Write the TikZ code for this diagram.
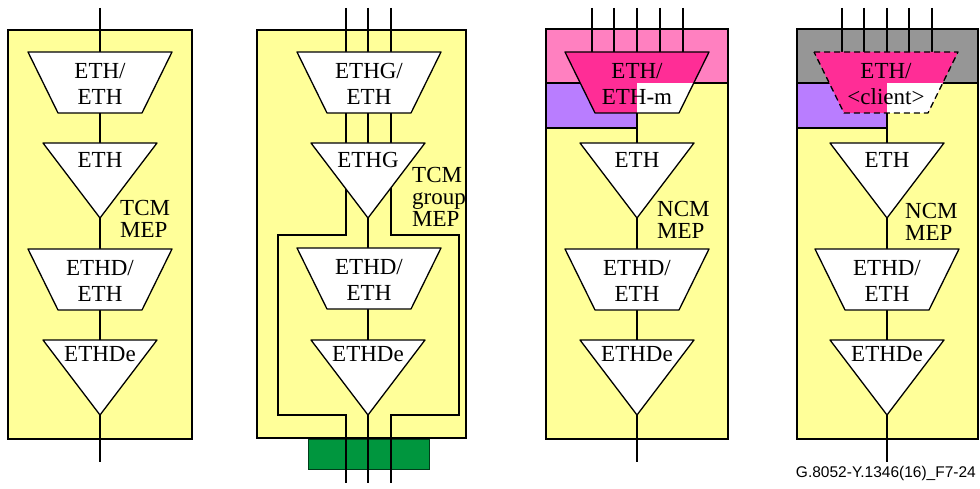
\documentclass[tikz,border=0pt]{standalone}
\usepackage{fontspec}
\setmainfont{Liberation Serif}
\newfontfamily\captionfont{Liberation Sans}
\definecolor{ylw}{RGB}{255,255,153}
\definecolor{pinkband}{RGB}{255,128,192}
\definecolor{mag}{RGB}{255,45,150}
\definecolor{purp}{RGB}{185,125,255}
\definecolor{gry}{RGB}{150,150,150}
\definecolor{grn}{RGB}{0,150,62}
\newcommand{\trapP}[2]{({#1-72},{#2}) -- ({#1+72},{#2}) -- ({#1+42},{#2+61}) -- ({#1-42},{#2+61}) -- cycle}
\newcommand{\triP}[2]{({#1-57},{#2}) -- ({#1+57},{#2}) -- ({#1},{#2+75}) -- cycle}
\tikzset{
  box/.style={fill=ylw,draw=black,line width=1.3pt},
  ln/.style={draw=black,line width=1.3pt},
  shp/.style={fill=white,draw=black,line width=1.3pt,line join=round},
  lbl/.style={font=\fontsize{23}{26}\selectfont,align=center,inner sep=0pt},
  side/.style={font=\fontsize{23}{22}\selectfont,align=left,inner sep=0pt,anchor=west},
  dsh/.style={draw=black,line width=1.3pt,dash pattern=on 6pt off 4pt,line join=round},
}
\begin{document}
\begin{tikzpicture}[x=1pt,y=-1pt]
\useasboundingbox (0,0) rectangle (980,489);
\fill[white] (0,0) rectangle (980,489);

% ---------- Panel 1 ----------
\draw[box] (8,30) rectangle (192,439);
\coordinate (atop) at (100,8);
\coordinate (abot) at (100,462);
\draw[ln] (atop) -- (abot);
\draw[shp] \trapP{100}{52};
\node[lbl] (a1) at (100,84) {ETH/\\ETH};
\draw[shp] \triP{100}{143};
\node[lbl] (a2) at (100,160) {ETH};
\node[side] (a3) at (120,219) {TCM\\MEP};
\draw[shp] \trapP{100}{249};
\node[lbl] (a4) at (100,281) {ETHD/\\ETH};
\draw[shp] \triP{100}{340};
\node[lbl] (a5) at (100,354) {ETHDe};

% ---------- Panel 2 ----------
\draw[box] (257,30) rectangle (466,438);
\draw[fill=grn,draw=black!60!grn,line width=1pt] (308,439) rectangle (429,469);
\coordinate (bltop) at (346,8);
\coordinate (blbot) at (346,483);
\coordinate (bmtop) at (368,8);
\coordinate (bmbot) at (368,483);
\coordinate (brtop) at (391,8);
\coordinate (brbot) at (391,483);
\coordinate (blc) at (278,415);
\coordinate (brc) at (459,415);
\draw[ln] (bltop) -- ++(0,227) -| (blc) -| (blbot);
\draw[ln] (brtop) -- ++(0,227) -| (brc) -| (brbot);
\draw[ln] (bmtop) -- (bmbot);
\draw[shp] \trapP{369}{52};
\node[lbl] (b1) at (369,84) {ETHG/\\ETH};
\draw[shp] \triP{368}{143};
\node[lbl] (b2) at (368,160) {ETHG};
\node[side] (b3) at (412,197) {TCM\\group\\MEP};
\draw[shp] \trapP{369}{248};
\node[lbl] (b4) at (369,280) {ETHD/\\ETH};
\draw[shp] \triP{368}{340};
\node[lbl] (b5) at (368,354) {ETHDe};

% ---------- Panel 3 ----------
\draw[box] (546,29) rectangle (728,439);
\draw[fill=pinkband,draw=black,line width=1.3pt] (546,29) rectangle (728,83);
\draw[fill=purp,draw=black,line width=1.3pt] (546,83) rectangle (637,128);
\foreach \i/\xx in {1/592,2/614,3/637,4/660,5/683}{
  \coordinate (ct\i) at (\xx,8);
  \coordinate (cb\i) at (\xx,52);
  \draw[ln] (ct\i) -- (cb\i);
}
\coordinate (cmtop) at (637,113);
\coordinate (cmbot) at (637,462);
\draw[ln] (cmtop) -- (cmbot);
\fill[mag] \trapP{637}{52};
\begin{scope}
  \clip \trapP{637}{52};
  \fill[white] (637,83) rectangle (720,120);
\end{scope}
\draw[ln,line join=round] \trapP{637}{52};
\node[lbl] (c1) at (637,84) {ETH/\\ETH-m};
\draw[shp] \triP{637}{143};
\node[lbl] (c2) at (637,160) {ETH};
\node[side] (c3) at (657,220) {NCM\\MEP};
\draw[shp] \trapP{637}{249};
\node[lbl] (c4) at (637,281) {ETHD/\\ETH};
\draw[shp] \triP{637}{340};
\node[lbl] (c5) at (637,354) {ETHDe};

% ---------- Panel 4 ----------
\draw[box] (797,29) rectangle (978,439);
\draw[fill=gry,draw=black,line width=1.3pt] (797,29) rectangle (978,83);
\draw[fill=purp,draw=black,line width=1.3pt] (797,83) rectangle (887,128);
\foreach \i/\xx in {1/842,2/864,3/887,4/909,5/932}{
  \coordinate (dt\i) at (\xx,8);
  \coordinate (db\i) at (\xx,52);
  \draw[ln] (dt\i) -- (db\i);
}
\coordinate (dmtop) at (887,113);
\coordinate (dmbot) at (887,462);
\draw[ln] (dmtop) -- (dmbot);
\fill[mag] \trapP{886}{52};
\begin{scope}
  \clip \trapP{886}{52};
  \fill[white] (887,83) rectangle (970,120);
\end{scope}
\draw[dsh] \trapP{886}{52};
\node[lbl] (d1) at (886,84) {ETH/\\<client>};
\draw[shp] \triP{887}{143};
\node[lbl] (d2) at (887,160) {ETH};
\node[side] (d3) at (905,222) {NCM\\MEP};
\draw[shp] \trapP{887}{249};
\node[lbl] (d4) at (887,281) {ETHD/\\ETH};
\draw[shp] \triP{887}{340};
\node[lbl] (d5) at (887,354) {ETHDe};

\node[font=\captionfont\fontsize{15.5}{18}\selectfont,anchor=base east,inner sep=0pt] (cap) at (976,477) {G.8052-Y.1346(16)\_F7-24};
\end{tikzpicture}
\end{document}
